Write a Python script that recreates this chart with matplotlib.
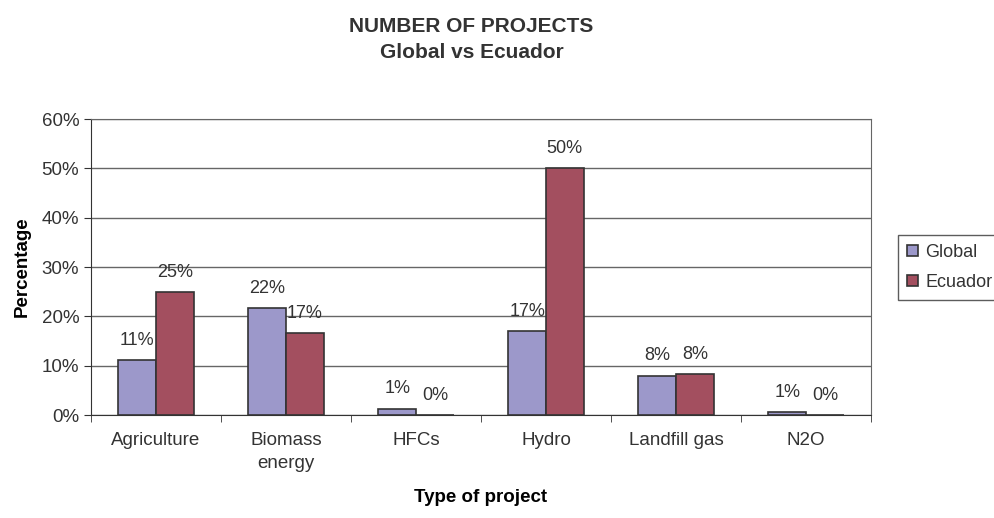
import numpy as np
import matplotlib.pyplot as plt

plt.rcParams.update({
    'font.family': ['Liberation Sans', 'DejaVu Sans'],
    'font.size': 13,
    'text.color': '#333333',
    'xtick.color': '#333333',
    'ytick.color': '#333333',
})

categories = ['Agriculture', 'Biomass\nenergy', 'HFCs', 'Hydro', 'Landfill gas', 'N2O']
global_vals = [11.1, 21.6, 1.3, 17.0, 8.0, 0.6]
ecuador_vals = [25.0, 16.7, 0.0, 50.0, 8.3, 0.0]
global_lbls = ['11%', '22%', '1%', '17%', '8%', '1%']
ecuador_lbls = ['25%', '17%', '0%', '50%', '8%', '0%']

x = np.arange(len(categories))
width = 0.29

fig = plt.figure(figsize=(9.95, 5.18), dpi=100)
ax = fig.add_axes([91/995, 1 - 415/518, 780/995, 296/518])

b1 = ax.bar(x - width/2, global_vals, width, color='#9C98CA',
            edgecolor='#333333', linewidth=1.2, label='Global', zorder=3)
b2 = ax.bar(x + width/2, ecuador_vals, width, color='#A34F5F',
            edgecolor='#333333', linewidth=1.2, label='Ecuador', zorder=3)

for bars, lbls in ((b1, global_lbls), (b2, ecuador_lbls)):
    for bar, lab in zip(bars, lbls):
        ax.annotate(lab, (bar.get_x() + bar.get_width()/2, bar.get_height()),
                    xytext=(0, 8), textcoords='offset points',
                    ha='center', va='bottom', fontsize=13)

ax.set_xlim(-0.5, len(categories) - 0.5)
ax.set_ylim(0, 60)
ax.set_yticks(np.arange(0, 61, 10))
ax.set_yticklabels([f'{v}%' for v in range(0, 61, 10)])
ax.set_xticks(x)
ax.set_xticklabels(categories, fontsize=13.5, linespacing=1.5)
ax.set_xticks(np.arange(-0.5, len(categories)), minor=True)
ax.tick_params(axis='x', which='major', length=0, pad=12)
ax.tick_params(axis='x', which='minor', length=5, direction='out')
ax.tick_params(axis='y', length=5, direction='out', labelsize=13.5)
ax.yaxis.grid(True, color='#666666', linewidth=1, zorder=0)
for s in ax.spines.values():
    s.set_color('#666666')
ax.spines['left'].set_color('#333333')
ax.spines['bottom'].set_color('#333333')

ax.set_xlabel('Type of project', fontweight='bold', fontsize=13.5, labelpad=12)
ax.set_ylabel('Percentage', fontweight='bold', fontsize=13.5, labelpad=8)

fig.text(0.474, 1 - 27/518, 'NUMBER OF PROJECTS', ha='center', va='center',
         fontweight='bold', fontsize=15)
fig.text(0.474, 1 - 52/518, 'Global vs Ecuador', ha='center', va='center',
         fontweight='bold', fontsize=15)

fig.legend(loc='upper left', bbox_to_anchor=(898/995, 1 - 235/518),
           frameon=True, fancybox=False, edgecolor='#333333',
           fontsize=13, handlelength=0.6, handleheight=0.6,
           borderpad=0.5, labelspacing=0.7, handletextpad=0.4,
           borderaxespad=0)

plt.savefig('out.png', dpi=100)
